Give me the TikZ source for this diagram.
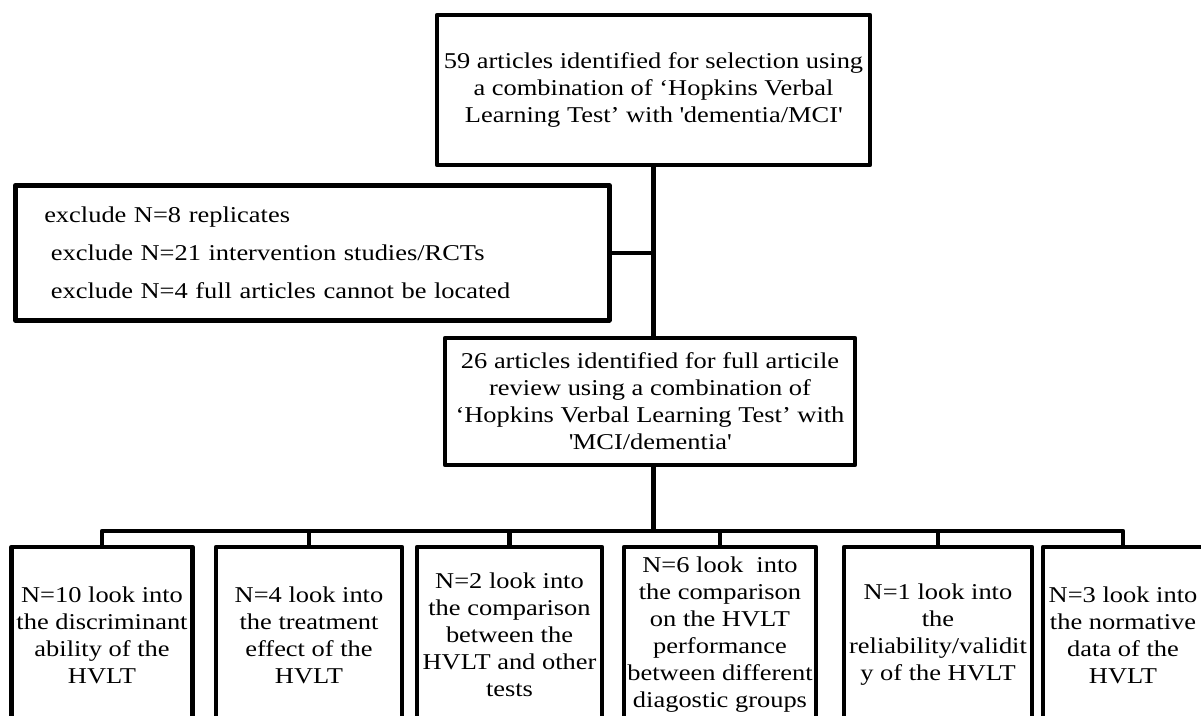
\documentclass[tikz,border=0pt]{standalone}
\usepackage{fontspec}
\setmainfont{Liberation Serif}[FakeStretch=1.17]
\begin{document}
\begin{tikzpicture}[x=1pt, y=-1pt,
		main/.style = {draw, line width=4.5pt, line join=round, align=center, inner sep=0pt, font=\fontsize{22.6}{27}\selectfont},
		leaf/.style = {main, minimum height=176pt},
		link/.style = {line width=4.5pt, line join=round}]
		\useasboundingbox (0,0) rectangle (1201,715);
		\clip (0,0) rectangle (1201,715);
		\node[main, minimum width=433pt, minimum height=150pt] (s1) at (653.5,90) {59 articles identified for selection using\\ a combination of ‘Hopkins Verbal\\ Learning Test’ with \textquotesingle dementia/MCI\textquotesingle};
		\node[main, anchor=north west, minimum width=594pt, minimum height=135pt, align=left, text width=536pt, font=\fontsize{22.6}{38}\selectfont] (ex) at (13,183) {exclude N=8 replicates\\ \hspace*{6.6pt}exclude N=21 intervention studies/RCTs\\ \hspace*{6.6pt}exclude N=4 full articles cannot be located};
		\node[main, minimum width=410pt, minimum height=127pt] (s2) at (650,401.5) {26 articles identified for full articile\\ review using a combination of\\ ‘Hopkins Verbal Learning Test’ with\\ \textquotesingle MCI/dementia\textquotesingle};
		\node[leaf, minimum width=181pt] (g1) at (102,635) {N=10 look into\\ the discriminant\\ ability of the\\ HVLT};
		\node[leaf, minimum width=186pt] (g2) at (309,635) {N=4 look into\\ the treatment\\ effect of the\\ HVLT};
		\node[leaf, minimum width=185pt] (g3) at (509.5,635) {N=2 look into\\ the comparison\\ between the\\ HVLT and other\\ tests};
		\node[leaf, minimum width=192pt] (g4) at (720,635) {N=6 look\ \ into\\ the comparison\\ on the HVLT\\ performance\\ between different\\ diagostic groups};
		\node[leaf, minimum width=188pt] (g5) at (938,635) {N=1 look into\\ the\\ reliability/validit\\ y of the HVLT};
		\node[leaf, minimum width=160pt] (g6) at (1123,635) {N=3 look into\\ the normative\\ data of the\\ HVLT};
		\coordinate (bus) at (653.5,531);
		\draw[link] (s1.south) -- (s1.south |- s2.north);
		\draw[link] (ex.east) -- (ex.east -| s1.south);
		\draw[link] (s1.south |- s2.south) -- (bus);
		\draw[link] (g1.north) |- (bus);
		\draw[link] (g2.north) |- (bus);
		\draw[link] (g3.north) |- (bus);
		\draw[link] (g4.north) |- (bus);
		\draw[link] (g5.north) |- (bus);
		\draw[link] (g6.north) |- (bus);
	\end{tikzpicture}
\end{document}
